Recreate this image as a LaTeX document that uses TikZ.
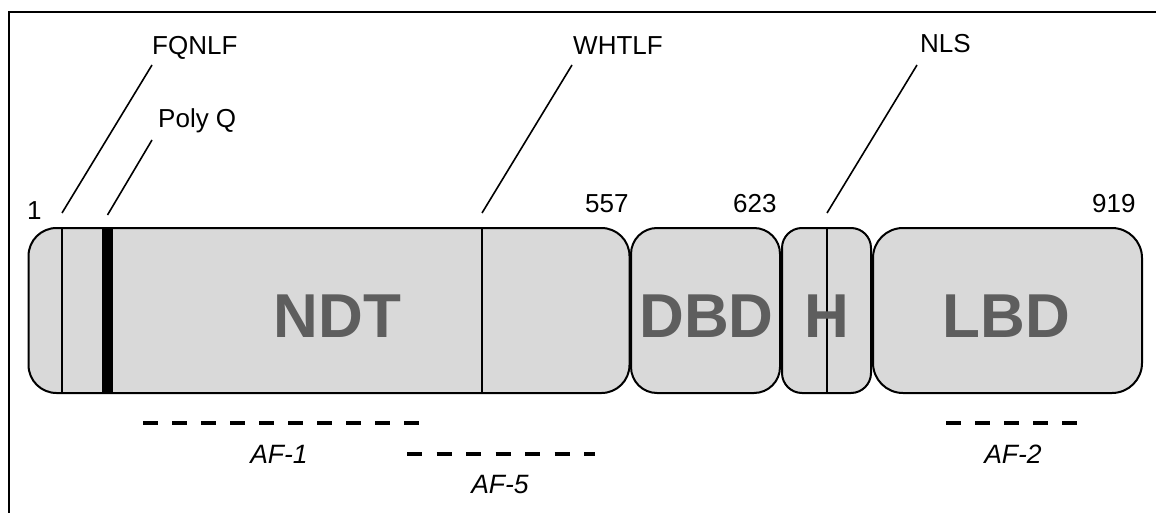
\documentclass[tikz,border=0pt]{standalone}
\usepackage{fontspec}
\setmainfont{Liberation Sans}
\usetikzlibrary{calc}
\definecolor{boxfill}{HTML}{D9D9D9}
\definecolor{domtext}{HTML}{5E5E5E}
\tikzset{
  dombox/.style={draw=black, line width=2pt, fill=boxfill, inner sep=0pt, minimum height=165pt},
  domlabel/.style={anchor=base, inner sep=0pt, text=domtext, font=\fontsize{62}{70}\selectfont\bfseries},
  sitelabel/.style={anchor=base west, inner sep=0pt, font=\fontsize{26}{30}\selectfont},
  poslabel/.style={anchor=base west, inner sep=0pt, font=\fontsize{26}{30}\selectfont},
  aflabel/.style={anchor=base, inner sep=0pt, font=\fontsize{26.5}{30}\selectfont\itshape},
  pointer/.style={draw=black, line width=1.6pt},
  markerline/.style={draw=black, line width=2pt},
  afline/.style={draw=black, line width=4pt, dash pattern=on 15pt off 14pt}
}
\begin{document}
\begin{tikzpicture}[x=1pt,y=-1pt]
\useasboundingbox (0,0) rectangle (1156,513);
% frame
\draw[line width=2pt] (9,513) -- (9,12) -- (1156,12);

% domain boxes
\node[dombox, rounded corners=28pt, minimum width=601pt] (ndt) at (329,310.5) {};
\node[dombox, rounded corners=26pt, minimum width=149pt] (dbd) at (705.5,310.5) {};
\node[dombox, rounded corners=20pt, minimum width=89pt] (hinge) at (826.5,310.5) {};
\node[dombox, rounded corners=30pt, minimum width=269pt] (lbd) at (1007.5,310.5) {};

% site coordinates on box top
\coordinate (fq) at (62,213);
\coordinate (pq) at (107.5,215);
\coordinate (wh) at (482,213);
\coordinate (nl) at (827,213);
\coordinate (fqtop) at (152,65);
\coordinate (pqtop) at (152,140);
\coordinate (whtop) at (572,65);
\coordinate (nltop) at (917,65);

% markers inside boxes
\draw[markerline] (fq |- ndt.north) -- (fq |- ndt.south);
\draw[draw=black, line width=11pt] (pq |- ndt.north) -- (pq |- ndt.south);
\draw[markerline] (wh |- ndt.north) -- (wh |- ndt.south);
\draw[markerline] (nl |- hinge.north) -- (nl |- hinge.south);

% domain labels
\node[domlabel] (ndtlab) at (337.5,337) {NDT};
\node[domlabel] (dbdlab) at (706.5,337) {DBD};
\node[domlabel] (hlab) at (826.5,337) {H};
\node[domlabel] (lbdlab) at (1006.5,337) {LBD};

% pointer lines and site labels
\draw[pointer] (fq) -- (fqtop);
\draw[pointer] (pq) -- (pqtop);
\draw[pointer] (wh) -- (whtop);
\draw[pointer] (nl) -- (nltop);
\node[sitelabel] (fqlab) at (152,55) {FQNLF};
\node[sitelabel] (pqlab) at (158,128) {Poly Q};
\node[sitelabel] (whlab) at (573,55) {WHTLF};
\node[sitelabel] (nllab) at (920,53) {NLS};

% positions
\node[poslabel] (p1) at (27,219) {1};
\node[poslabel] (p557) at (585,213) {557};
\node[poslabel] (p623) at (733,213) {623};
\node[poslabel] (p919) at (1092,213) {919};

% activation function regions
\coordinate (af1a) at (143,423);
\coordinate (af1b) at (422,423);
\coordinate (af5a) at (407,454);
\coordinate (af5b) at (595,454);
\coordinate (af2a) at (946,423);
\coordinate (af2b) at (1077,423);
\draw[afline, dash pattern=on 15pt off 14pt] (af1a) -- (af1b);
\draw[afline, dash pattern=on 15pt off 14.5pt] (af5a) -- (af5b);
\draw[afline, dash pattern=on 15pt off 14pt] (af2a) -- (af2b);
\node[aflabel] (af1) at (279,463) {AF-1};
\node[aflabel] (af5) at (500,493) {AF-5};
\node[aflabel] (af2) at (1013,463) {AF-2};
\end{tikzpicture}
\end{document}
